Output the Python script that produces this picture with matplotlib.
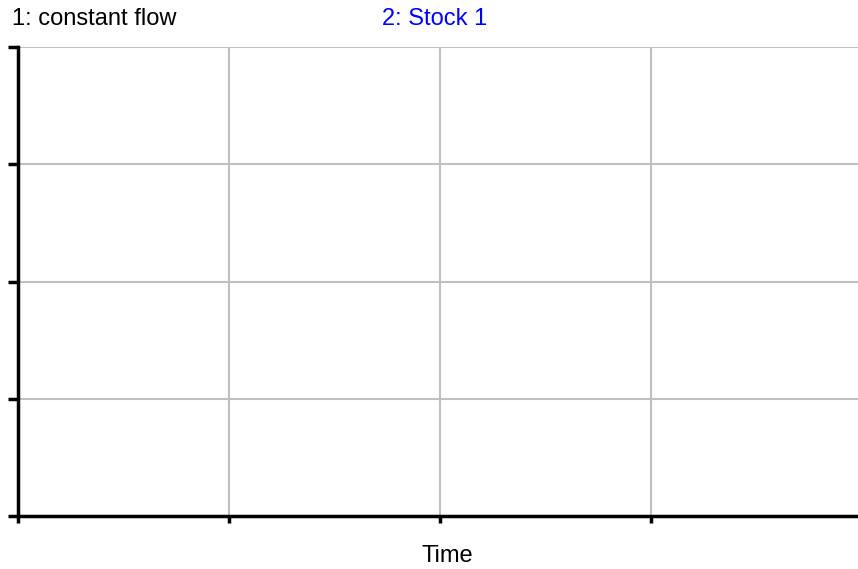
import matplotlib
matplotlib.use("Agg")
import matplotlib.pyplot as plt

plt.rcParams['font.family'] = ['Liberation Sans', 'DejaVu Sans']

series_names = ["1: constant flow", "2: Stock 1"]
series_colors = ["black", "#0000ff"]
series_values = [[], []]  # no data plotted in the reference
time_values = []
x_ticks = [0, 1, 2, 3]
y_ticks = [0, 1, 2, 3, 4]
x_label = "Time"

W, H = 858, 569
fig = plt.figure(figsize=(W / 100, H / 100), dpi=100)
ax = fig.add_axes([18 / W, (H - 516) / H, (858 - 18) / W, (516 - 47) / H])

for vals, col in zip(series_values, series_colors):
    ax.plot(time_values, vals, color=col)

ax.set_xlim(0, 840 / 211)
ax.set_ylim(0, 4)
ax.set_xticks(x_ticks)
ax.set_yticks(y_ticks)
ax.set_xticklabels([])
ax.set_yticklabels([])
ax.grid(True, color="#c0c0c0", linewidth=1.5)
ax.set_axisbelow(True)

for s in ["top", "right"]:
    ax.spines[s].set_visible(False)
for s in ["left", "bottom"]:
    ax.spines[s].set_linewidth(2.5)
    ax.spines[s].set_color("black")
ax.tick_params(axis="y", direction="out", length=7, width=2.5, color="black")
ax.tick_params(axis="x", direction="out", length=5, width=2.5, color="black")

fig.text(12 / W, 1 - 19 / H, series_names[0], color=series_colors[0],
         fontsize=17, ha="left", va="center")
fig.text(382 / W, 1 - 19 / H, series_names[1], color=series_colors[1],
         fontsize=17, ha="left", va="center")
fig.text(447 / W, 1 - 556 / H, x_label, color="black",
         fontsize=17, ha="center", va="center")

fig.savefig("out.png", dpi=100)
